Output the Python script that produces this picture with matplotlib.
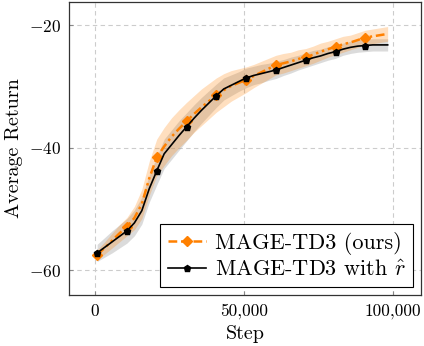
"""MAGE-TD3 learning curves: ours vs. the variant trained with the learned reward."""

import matplotlib

matplotlib.use("Agg")
import matplotlib.pyplot as plt  # noqa: E402
import numpy as np  # noqa: E402

plt.rcParams.update(
    {
        "font.family": "serif",
        "font.serif": ["cmr10", "DejaVu Serif"],
        "mathtext.fontset": "cm",
        "axes.formatter.use_mathtext": True,
    }
)

# Evaluation steps (marker every 4th point, i.e. every 10k steps).
steps = [700 + 2500 * k for k in range(40)]

ours_mean = [
    -57.5, -56.4, -55.2, -54.0, -52.9, -51.5, -49.2, -45.0, -41.6, -39.8,
    -38.2, -36.9, -35.7, -34.5, -33.4, -32.4, -31.4, -30.6, -29.9, -29.4,
    -28.9, -28.3, -27.7, -27.1, -26.5, -26.2, -25.9, -25.5, -25.2, -24.8,
    -24.3, -23.9, -23.5, -23.1, -22.8, -22.4, -22.0, -21.8, -21.6, -21.4,
]
ours_sd = [
    0.8, 1.0, 1.2, 1.4, 1.5, 1.9, 2.4, 2.8, 3.0, 3.1,
    3.1, 3.1, 3.1, 3.0, 3.0, 2.9, 2.8, 2.7, 2.5, 2.3,
    2.1, 1.9, 1.8, 1.7, 1.6, 1.6, 1.5, 1.5, 1.4, 1.4,
    1.4, 1.3, 1.3, 1.3, 1.2, 1.2, 1.2, 1.2, 1.2, 1.2,
]
rhat_mean = [
    -57.2, -56.3, -55.4, -54.5, -53.6, -52.3, -50.3, -46.7, -43.8, -41.0,
    -39.5, -38.0, -36.6, -35.2, -33.9, -32.7, -31.5, -30.4, -29.8, -29.2,
    -28.6, -28.2, -27.9, -27.6, -27.3, -26.9, -26.5, -26.1, -25.7, -25.3,
    -25.0, -24.6, -24.3, -23.9, -23.6, -23.4, -23.3, -23.2, -23.2, -23.2,
]
rhat_sd = [
    1.4, 1.6, 1.8, 1.9, 2.0, 2.1, 2.2, 2.2, 2.3, 2.4,
    2.4, 2.4, 2.3, 2.2, 2.1, 2.0, 1.9, 1.8, 1.7, 1.6,
    1.6, 1.5, 1.5, 1.4, 1.4, 1.3, 1.3, 1.2, 1.2, 1.2,
    1.1, 1.1, 1.1, 1.0, 1.0, 1.0, 1.0, 1.0, 1.0, 1.0,
]

labels = ["MAGE-TD3 (ours)", r"MAGE-TD3 with $\hat{r}$"]
xticks = [0, 50000, 100000]
xtick_labels = ["0", "50,000", "100,000"]
yticks = [-60, -40, -20]
ytick_labels = [r"$-60$", r"$-40$", r"$-20$"]

C_OURS = "#ff8000"
C_RHAT = "black"

x = np.array(steps)
om, osd = np.array(ours_mean), np.array(ours_sd)
rm, rsd = np.array(rhat_mean), np.array(rhat_sd)

fig = plt.figure(figsize=(4.24, 3.46), dpi=100)
ax = fig.add_axes([0.163, 0.147, 0.830, 0.847])

ax.fill_between(x, rm - rsd, rm + rsd, color="#9a9a9a", alpha=0.35, lw=0)
ax.fill_between(x, om - osd, om + osd, color=C_OURS, alpha=0.25, lw=0)

ax.plot(x, om, color=C_OURS, lw=1.8, ls=(0, (3.5, 1.5, 1, 1.5, 1, 1.5)),
        marker="D", ms=5, markevery=4, label=labels[0], zorder=3)
ax.plot(x, rm, color=C_RHAT, lw=1.2, marker="p", ms=5, markevery=4,
        label=labels[1], zorder=4)

ax.set_xlim(-8700, 109400)
ax.set_ylim(-64.1, -16.2)
ax.set_xticks(xticks)
ax.set_xticklabels(xtick_labels)
ax.set_yticks(yticks)
ax.set_yticklabels(ytick_labels)
ax.tick_params(direction="in", length=3, color="#888888", labelsize=12.5, pad=6)
ax.grid(True, ls=(0, (4, 3)), color="#cccccc", lw=0.8)
ax.set_axisbelow(True)
for sp in ax.spines.values():
    sp.set_color("#333333")
    sp.set_linewidth(0.9)

ax.set_xlabel("Step", fontsize=14.5, labelpad=4)
ax.set_ylabel("Average Return", fontsize=14.5, labelpad=4)

leg = ax.legend(loc="lower right", fontsize=16, fancybox=False, framealpha=1,
                edgecolor="black", handlelength=1.7, borderpad=0.35,
                labelspacing=0.2, handletextpad=0.4, borderaxespad=0.35)
leg.get_frame().set_linewidth(0.8)

fig.savefig("out.png", dpi=100)
